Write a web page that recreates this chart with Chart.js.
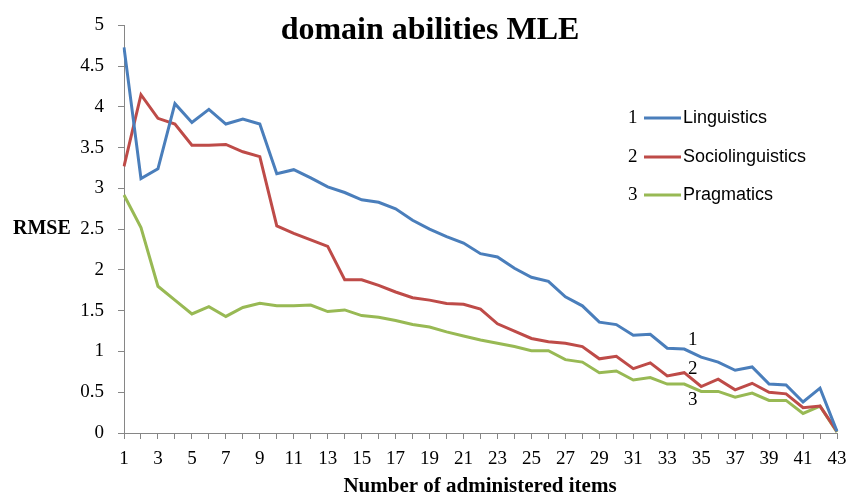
<!DOCTYPE html>
<html>
<head>
<meta charset="utf-8">
<script src="https://cdn.jsdelivr.net/npm/chart.js@4.4.0/dist/chart.umd.min.js"></script>
<style>
html,body{margin:0;padding:0;background:#fff;}
#wrap{width:848px;height:498px;position:relative;}
</style>
</head>
<body>
<div id="wrap"><canvas id="c" width="848" height="498"></canvas></div>
<script>
const items = Array.from({length: 43}, (_, i) => String(i + 1));
const linguistics = [4.73,3.12,3.24,4.04,3.81,3.97,3.79,3.85,3.79,3.18,3.23,3.13,3.02,2.95,2.86,2.83,2.75,2.61,2.50,2.41,2.33,2.20,2.16,2.02,1.91,1.86,1.67,1.56,1.36,1.33,1.20,1.21,1.04,1.03,0.93,0.87,0.77,0.81,0.60,0.59,0.38,0.55,0.02];
const sociolinguistics = [3.27,4.15,3.86,3.79,3.53,3.53,3.54,3.45,3.39,2.54,2.45,2.37,2.29,1.88,1.88,1.81,1.73,1.66,1.63,1.59,1.58,1.52,1.34,1.25,1.16,1.12,1.10,1.06,0.91,0.94,0.79,0.86,0.70,0.74,0.57,0.66,0.53,0.61,0.50,0.48,0.31,0.33,0.02];
const pragmatics = [2.92,2.52,1.80,1.63,1.46,1.55,1.43,1.54,1.59,1.56,1.56,1.57,1.49,1.51,1.44,1.42,1.38,1.33,1.30,1.24,1.19,1.14,1.10,1.06,1.01,1.01,0.90,0.87,0.74,0.76,0.65,0.68,0.60,0.60,0.51,0.51,0.44,0.49,0.40,0.40,0.24,0.33,0.01];
const seriesNames = ['Linguistics','Sociolinguistics','Pragmatics'];
const seriesNumbers = ['1','2','3'];
const yTicks = [0,0.5,1,1.5,2,2.5,3,3.5,4,4.5,5];

const colors = ['#4a7ebb','#be4b48','#98b954'];
const serif = '"Liberation Serif", "Times New Roman", serif';
const sans = '"Liberation Sans", Arial, sans-serif';

const deco = {
  id: 'deco',
  afterDraw(chart) {
    const ctx = chart.ctx;
    const xs = chart.scales.x, ys = chart.scales.y;
    ctx.save();
    ctx.fillStyle = '#000';
    ctx.font = 'bold 32px ' + serif;
    ctx.textAlign = 'center';
    ctx.textBaseline = 'middle';
    ctx.fillText('domain abilities MLE', 430, 31);
    ctx.font = 'bold 20px ' + serif;
    ctx.textAlign = 'left';
    ctx.fillText('RMSE', 13, ys.getPixelForValue(2.5));
    ctx.font = 'bold 21px ' + serif;
    ctx.textAlign = 'center';
    ctx.fillText('Number of administered items', 480, 487);
    const legY = [118, 157, 195];
    chart.data.datasets.forEach((ds, i) => {
      const y = legY[i];
      ctx.fillStyle = '#000';
      ctx.font = '19px ' + serif;
      ctx.textAlign = 'left';
      ctx.fillText(seriesNumbers[i], 628, y);
      ctx.strokeStyle = ds.borderColor;
      ctx.lineWidth = 3;
      ctx.beginPath();
      ctx.moveTo(644, y); ctx.lineTo(681, y);
      ctx.stroke();
      ctx.fillStyle = '#000';
      ctx.font = '18px ' + sans;
      ctx.fillText(ds.label, 683, y);
    });
    ctx.font = '19px ' + serif;
    ctx.textAlign = 'center';
    ctx.fillStyle = '#000';
    const ax = xs.getPixelForValue(33.5);
    const annY = [1.14, 0.78, 0.40];
    seriesNumbers.forEach((n, i) => {
      ctx.fillText(n, ax, ys.getPixelForValue(annY[i]));
    });
    ctx.restore();
  }
};

new Chart(document.getElementById('c'), {
  type: 'line',
  data: {
    labels: items,
    datasets: [linguistics, sociolinguistics, pragmatics].map((d, i) => ({
      label: seriesNames[i],
      data: d,
      borderColor: colors[i],
      backgroundColor: colors[i],
      borderWidth: 3,
      pointRadius: 0,
      tension: 0,
      fill: false
    }))
  },
  options: {
    responsive: false,
    animation: false,
    devicePixelRatio: 1,
    layout: { padding: { left: 0, right: 0, top: 18, bottom: 0 } },
    plugins: { legend: { display: false }, title: { display: false }, tooltip: { enabled: false } },
    scales: {
      x: {
        type: 'category',
        offset: false,
        grid: { drawOnChartArea: false, drawTicks: true, tickLength: 6, color: '#868686' },
        border: { color: '#868686', width: 1 },
        ticks: {
          autoSkip: false, maxRotation: 0, padding: 9,
          color: '#000', font: { family: serif, size: 19 },
          callback: function(v, i) { return i % 2 === 0 ? this.getLabelForValue(v) : ''; }
        },
        afterFit(s) { s.height = 65; s.paddingRight = 11; }
      },
      y: {
        min: 0, max: 5,
        afterBuildTicks(s) { s.ticks = yTicks.map(v => ({ value: v })); },
        grid: { drawOnChartArea: false, drawTicks: true, tickLength: 6, color: '#868686' },
        border: { color: '#868686', width: 1 },
        ticks: { padding: 14, color: '#000', font: { family: serif, size: 19 },
          callback: v => String(v) },
        afterFit(s) { s.width = 124; }
      }
    }
  },
  plugins: [deco]
});
</script>
</body>
</html>
